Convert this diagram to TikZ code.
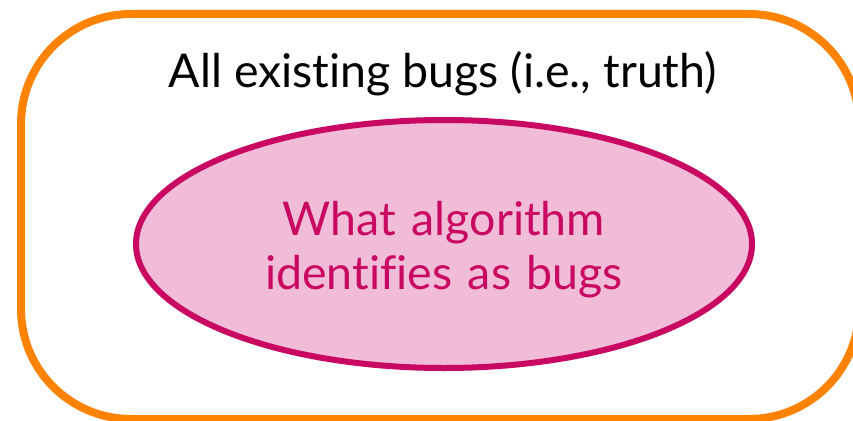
\documentclass[tikz,border=0pt]{standalone}
\usepackage{fontspec}
\setmainfont{Lato}[Ligatures={NoCommon,NoRare,NoContextual}]
\definecolor{borange}{HTML}{FF8200}
\definecolor{bmag}{HTML}{C90862}
\definecolor{bpink}{HTML}{F0BCD8}
\tikzset{
  outerbox/.style={draw=borange, line width=8pt, rounded corners=110pt},
  bugset/.style={ellipse, draw=bmag, fill=bpink, line width=6pt, minimum width=616pt, minimum height=248pt, inner sep=0pt},
  toplabel/.style={font=\fontsize{46.5}{48}\selectfont, text=black, anchor=base},
  innerlabel/.style={font=\fontsize{46.5}{54}\selectfont, text=bmag, align=center, text width=500pt}
}
\usetikzlibrary{shapes.geometric}
\begin{document}
\begin{tikzpicture}[x=1pt,y=-1pt]
\useasboundingbox (0,0) rectangle (853,420);
\clip (0,0) rectangle (853,420);
\fill[white] (0,0) rectangle (853,420);
\draw[outerbox] (21,14) rectangle (859,419);
\node[toplabel] (top) at (443,87) {All existing bugs (i.e., truth)};
\node[bugset] (alg) at (444,244) {};
\node[innerlabel, anchor=base] (algtext) at (444,235) {What algorithm\\identifies as bugs};
\end{tikzpicture}
\end{document}
